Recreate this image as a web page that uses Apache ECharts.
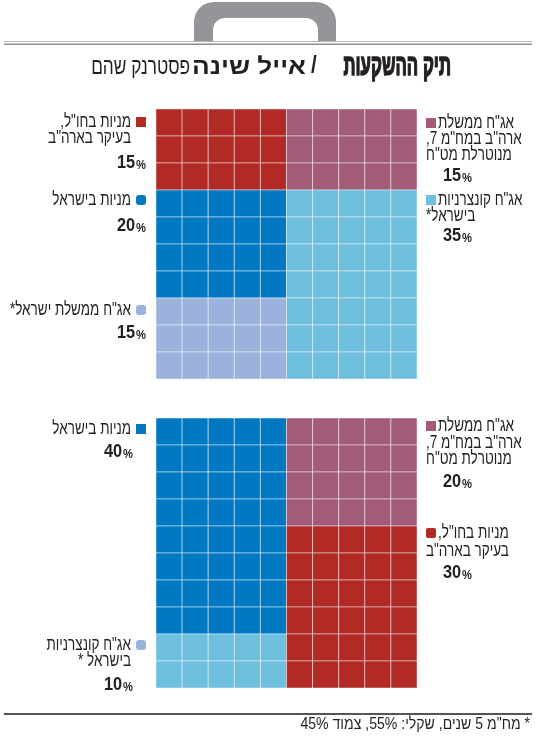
<!DOCTYPE html>
<html dir="rtl"><head><meta charset="utf-8">
<script src="https://cdn.jsdelivr.net/npm/echarts@6/dist/echarts.min.js"></script>
<style>html,body{margin:0;padding:0;background:#fff}#c{width:550px;height:740px}</style>
</head><body><div id="c"></div><script>
const FONT = '"Liberation Sans","DejaVu Sans",sans-serif';

// ---- data ----
const titleMain = 'תיק ההשקעות';
const titleAuthorBold = 'אייל שינה';
const titleAuthor = 'פסטרנק שהם';
const solidLabel = 'סולידי';
const aggrLabel = 'אגרסיבי';
const footnote = '* מח"מ 5 שנים, שקלי: 55%, צמוד 45%';

// solid portfolio
const solidNames = ['מניות בחו"ל,\nבעיקר בארה"ב', 'אג"ח ממשלת\nארה"ב במח"מ 7,\nמנוטרלת מט"ח', 'מניות בישראל', 'אג"ח קונצרניות\nבישראל*', 'אג"ח ממשלת ישראל*'];
const solidValues = [15, 15, 20, 35, 15];
const solidLeftStack = [0, 2, 4];
const solidRightStack = [1, 3];

// aggressive portfolio
const aggrNames = ['מניות בישראל', 'אג"ח ממשלת\nארה"ב במח"מ 7,\nמנוטרלת מט"ח', 'מניות בחו"ל,\nבעיקר בארה"ב', 'אג"ח קונצרניות\nבישראל *'];
const aggrValues = [40, 20, 30, 10];
const aggrLeftStack = [0, 3];
const aggrRightStack = [1, 2];

const gridIdx = [0, 1, 2, 3, 4, 5, 6, 7, 8, 9];

// ---- styles ----
const RED = '#B12A25', PURPLE = '#A35B7A', BLUE = '#0078C2', LBLUE = '#6EBEDD', LAV = '#9AB2DC';
const solidColors = [RED, PURPLE, BLUE, LBLUE, LAV];
const aggrColors = [BLUE, PURPLE, RED, LBLUE];
const aggrMarkerColors = [BLUE, PURPLE, RED, LAV];

function buildCells(values, leftStack, rightStack) {
  const cells = [];
  [leftStack, rightStack].forEach((stack, h) => {
    let row = 0;
    stack.forEach(ci => {
      const rows = values[ci] / 5;
      for (let r = 0; r < rows; r++) {
        for (let c = 0; c < 5; c++) cells.push([h * 5 + c, row, ci]);
        row++;
      }
    });
  });
  return cells;
}

function cellSeries(gi, values, left, right, colors) {
  return {
    type: 'custom', xAxisIndex: gi, yAxisIndex: gi,
    data: buildCells(values, left, right),
    renderItem(params, api) {
      const p = api.coord([api.value(0), api.value(1)]);
      const s = api.size([1, 1]);
      return { type: 'rect', shape: { x: p[0] - s[0] / 2, y: p[1] - s[1] / 2, width: s[0], height: s[1] },
        style: { fill: colors[api.value(2)], stroke: 'rgba(255,255,255,0.45)', lineWidth: 1 } };
    }
  };
}

const graphics = [];
// briefcase handle
graphics.push({ type: 'rect', shape: { x: 194, y: 2, width: 142, height: 39, r: [20, 20, 0, 0] }, style: { fill: '#939598' } });
graphics.push({ type: 'rect', shape: { x: 213, y: 18, width: 105, height: 24, r: [12, 12, 0, 0] }, style: { fill: '#fff' } });
graphics.push({ type: 'line', shape: { x1: 4, y1: 41.5, x2: 532, y2: 41.5 }, style: { stroke: '#b4b4b4', lineWidth: 1.2 } });
graphics.push({ type: 'line', shape: { x1: 4, y1: 44.3, x2: 532, y2: 44.3 }, style: { stroke: '#8e8e8e', lineWidth: 1.5 } });

function txt(x, y, text, size, weight, align, sx, color, strokeW) {
  const style = { text, fontSize: size, fontWeight: weight, fontFamily: FONT, fill: color || '#231f20', align, verticalAlign: 'middle' };
  if (strokeW) { style.stroke = color || '#231f20'; style.lineWidth = strokeW; }
  return { type: 'text', x, y, scaleX: sx, style };
}
// title
graphics.push(txt(451, 67, titleMain, 30, 900, 'right', 0.56, null, 1.6));
graphics.push(txt(314, 67, '/', 23, 'bold', 'center', 0.9));
graphics.push(txt(306, 68, titleAuthorBold, 23, 'bold', 'right', 1.14));
graphics.push(txt(190, 68, titleAuthor, 23, 'normal', 'right', 0.75));

// circles
[[286.5, 244], [286.5, 553]].forEach((c, i) => {
  graphics.push({ type: 'circle', shape: { cx: c[0], cy: c[1], r: 41 }, style: { fill: '#fff' } });
  graphics.push(txt(c[0], c[1], i === 0 ? solidLabel : aggrLabel, 28, 'bold', 'center', 0.82, '#8a8a8a'));
});

function pct(x, y, v, align) {
  return { type: 'text', x, y, scaleX: 0.86, style: { text: '{n|' + v + '}{p|%}', align, verticalAlign: 'middle',
    rich: { n: { fontSize: 19, fontWeight: 'bold', fontFamily: FONT, fill: '#231f20' }, p: { fontSize: 13, fontWeight: 'bold', fontFamily: FONT, fill: '#231f20', padding: [4, 0, 0, 1] } } } };
}
function marker(x, cy, color, r) {
  return { type: 'rect', shape: { x, y: cy - 5, width: 10, height: 10, r }, style: { fill: color } };
}
const LS = 18, LX = 0.75;
// left-column legend: lines right-aligned, marker to their right
function leftLegend(name, value, color, ys, pctX, pctY, r) {
  graphics.push(marker(136, ys[0], color, r));
  name.split('\n').forEach((ln, i) => graphics.push(txt(131, ys[i], ln, LS, 'normal', 'right', LX)));
  graphics.push(pct(pctX, pctY, value, 'right'));
}
// right-column legend: lines left-aligned
function rightLegend(name, value, color, ys, pctY, r) {
  graphics.push(marker(426, ys[0], color, r));
  name.split('\n').forEach((ln, i) => graphics.push(txt(i === 0 ? 438 : 426, ys[i], ln, LS, 'normal', 'left', LX)));
  graphics.push(pct(443, pctY, value, 'left'));
}
leftLegend(solidNames[0], solidValues[0], solidColors[0], [122, 138], 146, 163, 0);
leftLegend(solidNames[2], solidValues[2], solidColors[2], [200], 146, 226, 3);
leftLegend(solidNames[4], solidValues[4], solidColors[4], [310], 146, 333, 3);
rightLegend(solidNames[1], solidValues[1], solidColors[1], [123, 139, 155], 176, 0);
rightLegend(solidNames[3], solidValues[3], solidColors[3], [200, 216], 236, 0);
leftLegend(aggrNames[0], aggrValues[0], aggrMarkerColors[0], [429], 133, 452, 0);
leftLegend(aggrNames[3], aggrValues[3], aggrMarkerColors[3], [645, 661], 133, 685, 3);
rightLegend(aggrNames[1], aggrValues[1], aggrMarkerColors[1], [426, 443, 459], 482, 0);
rightLegend(aggrNames[2], aggrValues[2], aggrMarkerColors[2], [533, 551], 573, 2);

// footnote
graphics.push({ type: 'line', shape: { x1: 4, y1: 714, x2: 532, y2: 714 }, style: { stroke: '#555', lineWidth: 2 } });
graphics.push(txt(530, 725, footnote, 16, 'normal', 'right', 0.88));

const axisBase = { type: 'category', data: gridIdx, show: false };
const option = {
  backgroundColor: '#fff',
  animation: false,
  grid: [
    { left: 156, top: 109, width: 261, height: 270 },
    { left: 156, top: 418, width: 261, height: 270 }
  ],
  xAxis: [Object.assign({ gridIndex: 0 }, axisBase), Object.assign({ gridIndex: 1 }, axisBase)],
  yAxis: [Object.assign({ gridIndex: 0, inverse: true }, axisBase), Object.assign({ gridIndex: 1, inverse: true }, axisBase)],
  series: [
    cellSeries(0, solidValues, solidLeftStack, solidRightStack, solidColors),
    cellSeries(1, aggrValues, aggrLeftStack, aggrRightStack, aggrColors)
  ],
  graphic: { elements: graphics }
};
const chart = echarts.init(document.getElementById('c'));
chart.setOption(option);
</script></body></html>
